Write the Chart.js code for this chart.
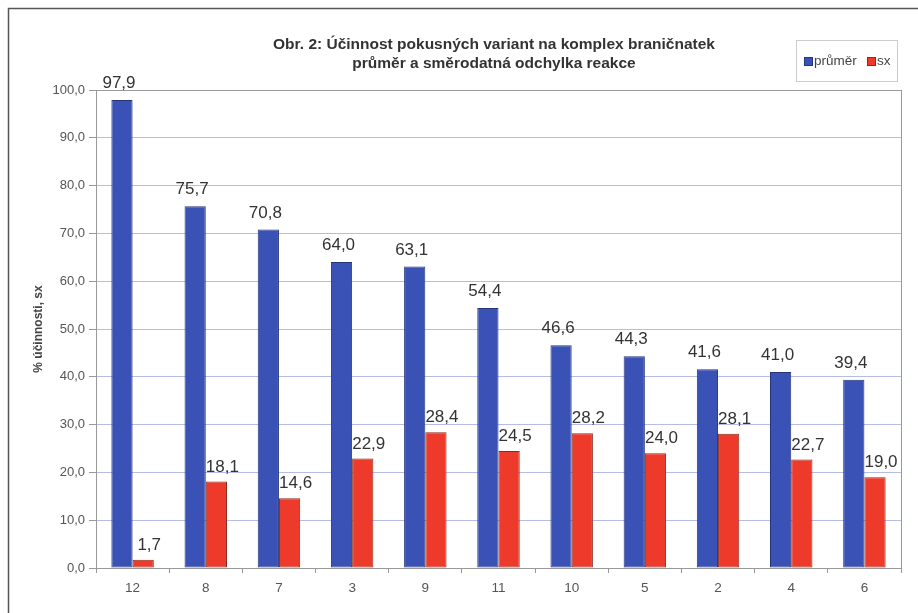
<!DOCTYPE html>
<html>
<head>
<meta charset="utf-8">
<script src="https://cdn.jsdelivr.net/npm/chart.js@4.4.1/dist/chart.umd.min.js"></script>
<style>
  html, body { margin: 0; padding: 0; background: #fff; }
  #wrap { width: 918px; height: 613px; }
</style>
</head>
<body>
<div id="wrap"><canvas id="effChart" width="918" height="613"></canvas></div>
<script>
// data
const varianty = ['12', '8', '7', '3', '9', '11', '10', '5', '2', '4', '6'];
const prumer = [97.9, 75.7, 70.8, 64.0, 63.1, 54.4, 46.6, 44.3, 41.6, 41.0, 39.4];
const sx = [1.7, 18.1, 14.6, 22.9, 28.4, 24.5, 28.2, 24.0, 28.1, 22.7, 19.0];
const yTicks = [0, 10, 20, 30, 40, 50, 60, 70, 80, 90, 100];
const titleLines = ['Obr. 2: Účinnost pokusných variant na komplex braničnatek', 'průměr a směrodatná odchylka reakce'];

const fmt = v => v.toFixed(1).replace('.', ',');

// frame, plot border, title, legend, value labels
const decor = {
    id: 'decor',
    beforeDraw(chart) {
        const { ctx } = chart;
        ctx.save();
        ctx.fillStyle = '#fff';
        ctx.fillRect(0, 0, chart.width, chart.height);
        ctx.strokeStyle = '#555';
        ctx.lineWidth = 1.5;
        ctx.strokeRect(8.5, 8.5, 1000, 1000);
        ctx.restore();
    },
    afterDraw(chart) {
        const { ctx, chartArea } = chart;
        ctx.save();
        // plot area border
        ctx.strokeStyle = '#999';
        ctx.lineWidth = 1;
        ctx.strokeRect(chartArea.left + 0.5, chartArea.top + 0.5, chartArea.right - chartArea.left, chartArea.bottom - chartArea.top);

        // title
        ctx.fillStyle = '#333';
        ctx.font = 'bold 15.5px "Liberation Sans", Arial, sans-serif';
        ctx.textAlign = 'center';
        ctx.textBaseline = 'middle';
        ctx.fillText(titleLines[0], 494, 45);
        ctx.fillText(titleLines[1], 494, 64);

        // legend
        ctx.strokeStyle = '#ccc';
        ctx.strokeRect(796.5, 40.5, 101, 41);
        ctx.font = '13.5px "Liberation Sans", Arial, sans-serif';
        ctx.textAlign = 'left';
        const ds = chart.data.datasets;
        const items = [[804, ds[0]], [867, ds[1]]];
        items.forEach(([x, d]) => {
            ctx.fillStyle = d.backgroundColor;
            ctx.fillRect(x, 57, 8, 8);
            ctx.strokeStyle = d.borderColor;
            ctx.strokeRect(x + 0.5, 57.5, 8, 8);
            ctx.fillStyle = '#444';
            ctx.fillText(d.label, x + 10, 61);
        });

        // value labels
        ctx.font = '17px "Liberation Sans", Arial, sans-serif';
        ctx.fillStyle = '#333';
        ctx.textAlign = 'center';
        ctx.textBaseline = 'bottom';
        const shifts = [[-3, 8], [6, 6]];
        chart.data.datasets.forEach((d, i) => {
            chart.getDatasetMeta(i).data.forEach((bar, j) => {
                ctx.fillText(fmt(d.data[j]), bar.x + shifts[i][0], bar.y - shifts[i][1]);
            });
        });
        ctx.restore();
    }
};

new Chart(document.getElementById('effChart'), {
    type: 'bar',
    data: {
        labels: varianty,
        datasets: [{
            label: 'průměr',
            data: prumer,
            backgroundColor: '#3a52b6',
            borderColor: '#26357a',
            borderWidth: 1,
            borderSkipped: false,
            barPercentage: 1.0,
            categoryPercentage: 0.58
        }, {
            label: 'sx',
            data: sx,
            backgroundColor: '#ee3a2a',
            borderColor: '#8a2a1c',
            borderWidth: 1,
            borderSkipped: false,
            barPercentage: 1.0,
            categoryPercentage: 0.58
        }]
    },
    options: {
        responsive: false,
        animation: false,
        layout: {
            padding: { left: 8, right: 17, top: 90, bottom: 0 }
        },
        plugins: {
            legend: { display: false },
            title: { display: false },
            tooltip: { enabled: false }
        },
        scales: {
            x: {
                grid: {
                    offset: true,
                    drawOnChartArea: false,
                    tickLength: 5,
                    color: '#999'
                },
                border: { color: '#999' },
                ticks: {
                    color: '#555',
                    padding: 7,
                    font: { family: '"Liberation Sans", Arial, sans-serif', size: 13.5 }
                },
                afterFit(scale) { scale.height = 45; }
            },
            y: {
                min: 0,
                max: 100,
                afterBuildTicks(scale) {
                    scale.ticks = yTicks.map(v => ({ value: v }));
                },
                ticks: {
                    color: '#555',
                    padding: 4,
                    callback: v => fmt(v),
                    font: { family: '"Liberation Sans", Arial, sans-serif', size: 13 }
                },
                grid: {
                    color: '#b4bde6',
                    tickColor: '#999',
                    tickLength: 7
                },
                border: { color: '#999' },
                title: {
                    display: true,
                    text: '% účinnosti, sx',
                    color: '#444',
                    padding: { top: 23, bottom: 0 },
                    font: { family: '"Liberation Sans", Arial, sans-serif', size: 12, weight: 'bold' }
                },
                afterFit(scale) { scale.width = 88; }
            }
        }
    },
    plugins: [decor]
});
</script>
</body>
</html>
